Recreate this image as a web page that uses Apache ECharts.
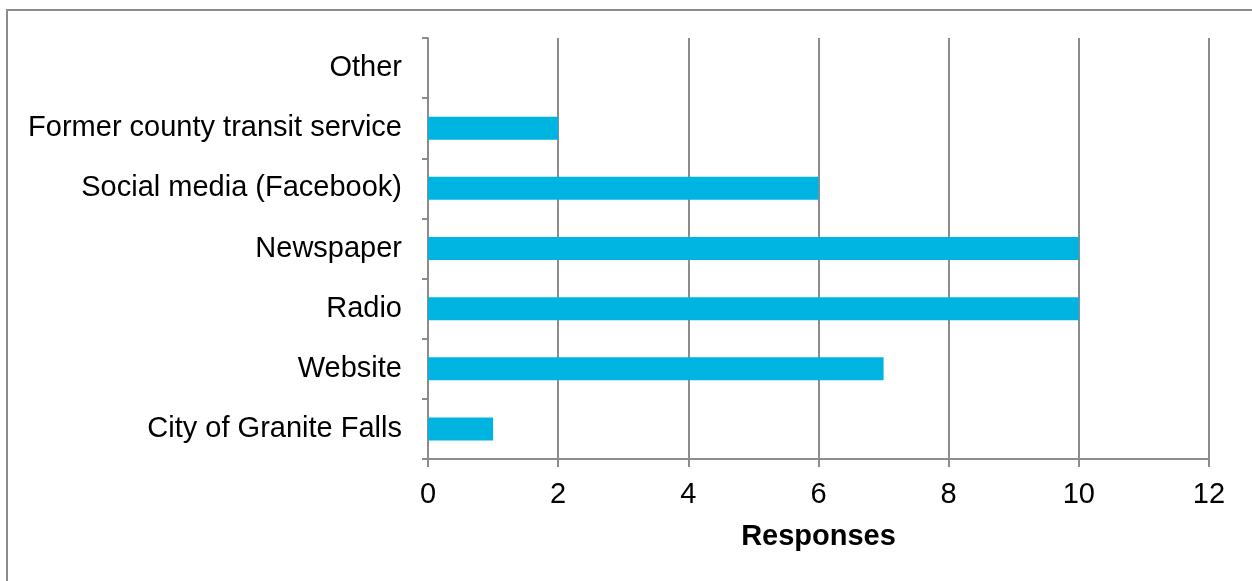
<!DOCTYPE html>
<html>
<head>
<meta charset="utf-8">
<script src="https://cdn.jsdelivr.net/npm/echarts@6/dist/echarts.min.js"></script>
<style>
  html, body { margin: 0; padding: 0; background: #ffffff; }
  #chart { width: 1252px; height: 581px; }
</style>
</head>
<body>
<div id="chart"></div>
<script>
// Sources of information, listed from the bottom row upward
const categories = [
  'City of Granite Falls',
  'Website',
  'Radio',
  'Newspaper',
  'Social media (Facebook)',
  'Former county transit service',
  'Other'
];
const responses = [1, 7, 10, 10, 6, 2, 0];
const axisMax = 12;
const axisStep = 2;
const axisTitle = 'Responses';

const gray = '#8c8c8c';
const font = '"Liberation Sans", Arial, sans-serif';

const chart = echarts.init(document.getElementById('chart'), null, { renderer: 'canvas' });
chart.setOption({
  backgroundColor: '#ffffff',
  animation: false,
  graphic: [{
    type: 'rect',
    shape: { x: 7, y: 10, width: 1300, height: 700 },
    style: { fill: 'none', stroke: gray, lineWidth: 2 },
    silent: true
  }],
  grid: { left: 428, top: 38, right: 43, bottom: 122, containLabel: false },
  xAxis: {
    type: 'value',
    min: 0,
    max: axisMax,
    interval: axisStep,
    name: axisTitle,
    nameLocation: 'middle',
    nameGap: 63,
    nameTextStyle: { fontFamily: font, fontSize: 29, fontWeight: 'bold', color: '#000' },
    axisLine: { show: true, lineStyle: { color: gray, width: 2 } },
    axisTick: { show: true, length: 8, lineStyle: { color: gray, width: 2 } },
    axisLabel: { margin: 21, fontFamily: font, fontSize: 29, color: '#000' },
    splitLine: { show: true, lineStyle: { color: gray, width: 2 } }
  },
  yAxis: {
    type: 'category',
    data: categories,
    axisLine: { show: true, lineStyle: { color: gray, width: 2 } },
    axisTick: { show: true, length: 6, lineStyle: { color: gray, width: 2 } },
    axisLabel: { margin: 26, fontFamily: font, fontSize: 29, color: '#000', padding: [7, 0, 0, 0] },
    splitLine: { show: false }
  },
  series: [{
    type: 'bar',
    data: responses,
    barWidth: 23,
    itemStyle: { color: '#00b4e1' }
  }]
});
</script>
</body>
</html>
